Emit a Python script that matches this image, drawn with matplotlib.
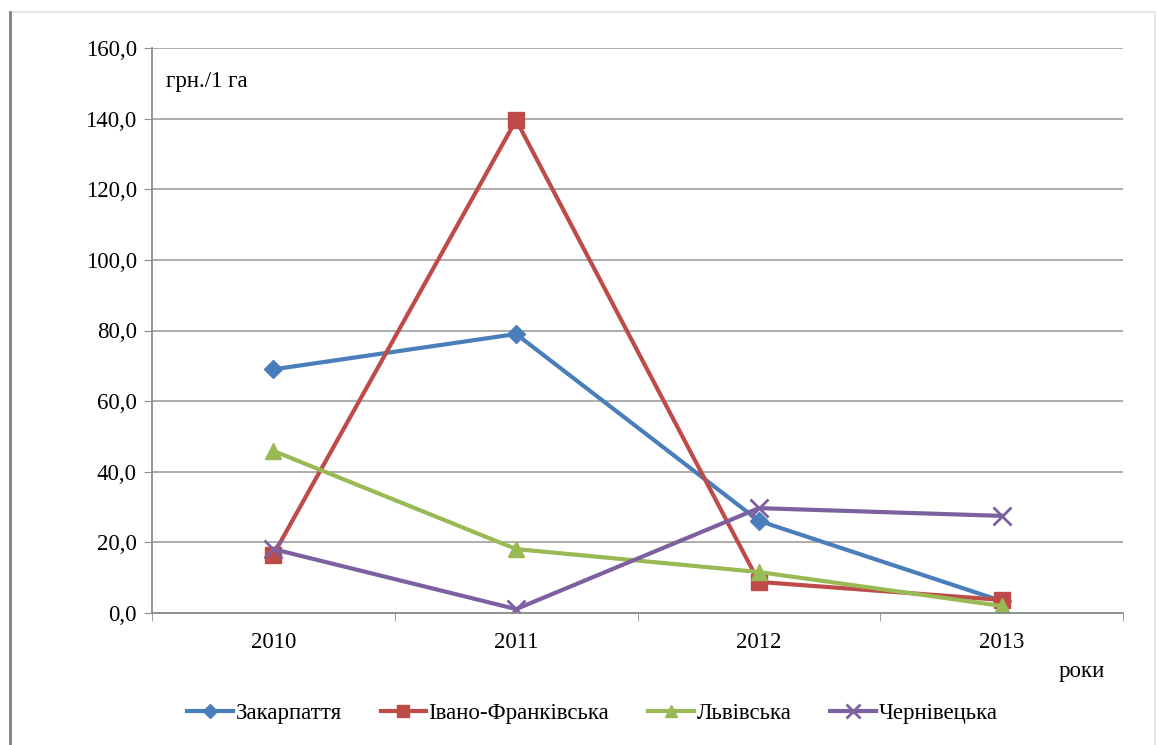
import matplotlib.pyplot as plt
from matplotlib.patches import Rectangle

plt.rcParams['font.family'] = ['Liberation Serif', 'DejaVu Serif']

years = ['2010', '2011', '2012', '2013']
zakarpattia = [69.0, 79.0, 26.1, 3.4]
ivano_frankivska = [16.5, 139.6, 8.8, 3.7]
lvivska = [45.9, 18.1, 11.6, 2.0]
chernivetska = [18.1, 1.1, 29.7, 27.5]

series = [
    ('Закарпаття', zakarpattia, '#4a7ebb', 'D', 9),
    ('Івано-Франківська', ivano_frankivska, '#be4b48', 's', 11),
    ('Львівська', lvivska, '#98b954', '^', 11),
    ('Чернівецька', chernivetska, '#7d60a0', 'x', 13),
]

fig = plt.figure(figsize=(11.57, 7.45), dpi=100)
ax = fig.add_axes([152 / 1157, 1 - 613 / 745, 971 / 1157, 565 / 745])

x = [i + 0.5 for i in range(len(years))]
for name, vals, color, marker, ms in series:
    ax.plot(x, vals, color=color, lw=3, marker=marker, ms=ms,
            mew=2 if marker == 'x' else 1, mec=color, mfc=color, label=name)

ax.set_xlim(0, 4)
ax.set_ylim(0, 160)
ax.set_yticks(range(0, 161, 20))
ax.set_yticklabels([f'{v},0' for v in range(0, 161, 20)])
ax.set_xticks(x)
ax.set_xticklabels(years)
ax.set_xticks(range(5), minor=True)
ax.tick_params(axis='x', which='major', length=0, pad=14, labelsize=16.5)
ax.tick_params(axis='x', which='minor', length=6, color='#8c8c8c', direction='out')
ax.tick_params(axis='y', length=6, color='#8c8c8c', pad=5, labelsize=16.5)
ax.grid(axis='y', color='#a6a6a6', lw=1.3)
ax.set_axisbelow(True)
for s in ['top', 'right']:
    ax.spines[s].set_visible(False)
for s in ['left', 'bottom']:
    ax.spines[s].set_color('#8c8c8c')
    ax.spines[s].set_linewidth(1.3)

ax.text(0.014, 0.96, 'грн./1 га', transform=ax.transAxes, fontsize=16.5, va='top')
fig.text(1082 / 1157, 1 - 672 / 745, 'роки', fontsize=16.5, ha='center', va='center')

fig.legend(loc='center', bbox_to_anchor=(0.512, 1 - 713 / 745), ncol=4, frameon=False,
           fontsize=16.5, handlelength=2.0, handletextpad=0.1, columnspacing=1.7,
           markerscale=0.75)

# chart area border
fig.patches.append(Rectangle((10 / 1157, -0.05), 1145 / 1157, 1 - 12 / 745 + 0.05,
                             transform=fig.transFigure, fill=False,
                             edgecolor='#e3e3e3', lw=1.2))
fig.add_artist(plt.Line2D([10 / 1157, 10 / 1157], [0, 1 - 12 / 745],
                          transform=fig.transFigure, color='#808080', lw=2))

fig.savefig('out.png', dpi=100)
